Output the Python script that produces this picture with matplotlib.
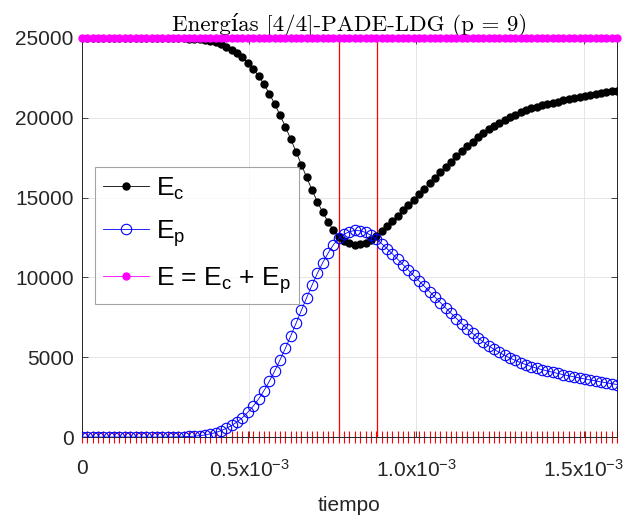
import numpy as np
import matplotlib
matplotlib.use("Agg")
import matplotlib.pyplot as plt

plt.rcParams['font.family'] = ['Liberation Sans', 'DejaVu Sans']
plt.rcParams['mathtext.fontset'] = 'custom'
plt.rcParams['mathtext.rm'] = 'Liberation Sans'
plt.rcParams['mathtext.it'] = 'Liberation Sans:italic'
plt.rcParams['mathtext.sf'] = 'Liberation Sans'

# time grid (101 uniform steps up to 1.6e-3)
t_end = 1.6e-3
n_pts = 101

# kinetic energy
Ec = [25000, 25000, 25000, 25000, 25000, 25000, 25000, 25000, 25000, 25000,
      25000, 25000, 25000, 25000, 25000, 25000, 25000, 24995, 24990, 24980,
      24965, 24945, 24915, 24870, 24800, 24720, 24600, 24450, 24270, 24050,
      23780, 23450, 23070, 22620, 22100, 21520, 20880, 20180, 19450, 18680,
      17880, 17070, 16260, 15480, 14740, 14070, 13480, 12950, 12550, 12290,
      12130, 12060, 12080, 12180, 12360, 12600, 12880, 13190, 13520, 13860,
      14200, 14540, 14880, 15220, 15560, 15900, 16240, 16580, 16920, 17250,
      17580, 17900, 18210, 18500, 18780, 19040, 19280, 19500, 19700, 19880,
      20050, 20200, 20340, 20470, 20590, 20690, 20780, 20865, 20945, 21020,
      21095, 21165, 21235, 21300, 21365, 21425, 21485, 21545, 21600, 21655,
      21710]

# potential energy
Ep = [0, 0, 0, 0, 0, 0, 0, 0, 0, 0,
      0, 0, 0, 0, 0, 0, 0, 5, 10, 20,
      35, 55, 85, 130, 200, 280, 400, 550, 730, 950,
      1220, 1550, 1930, 2380, 2900, 3480, 4120, 4820, 5550, 6320,
      7120, 7930, 8740, 9520, 10260, 10930, 11520, 12050, 12450, 12710,
      12870, 12940, 12920, 12820, 12640, 12400, 12120, 11810, 11480, 11140,
      10800, 10460, 10120, 9780, 9440, 9100, 8760, 8420, 8080, 7750,
      7420, 7100, 6790, 6500, 6220, 5960, 5720, 5500, 5300, 5120,
      4950, 4800, 4660, 4530, 4410, 4310, 4220, 4135, 4055, 3980,
      3905, 3835, 3765, 3700, 3635, 3575, 3515, 3455, 3400, 3345,
      3290]

# total energy (flat)
E_tot = [25000] * n_pts

# red vertical markers
vlines_t = [0.7695e-3, 0.883e-3]

xtick_vals = [0, 0.5e-3, 1.0e-3, 1.5e-3]
xtick_labels = ['0', '0.5x10$^{-3}$', '1.0x10$^{-3}$', '1.5x10$^{-3}$']
ytick_vals = [0, 5000, 10000, 15000, 20000, 25000]

t = np.linspace(0, t_end, n_pts)

fig = plt.figure(figsize=(6.26, 5.17), dpi=100)
ax = fig.add_axes([0.131, 0.1547, 0.8546, 0.7718])

ax.grid(True, color='#e6e6e6', linewidth=0.7)
ax.set_axisbelow(True)

for tv in vlines_t:
    ax.axvline(tv, color='red', linewidth=0.9, zorder=1.5)

ax.plot(t, Ec, '-o', color='black', markerfacecolor='black',
        markersize=5, linewidth=0.6, label='E$_\\mathrm{c}$', zorder=3)
ax.plot(t, Ep, '-o', color='blue', markerfacecolor='none',
        markersize=7.5, markeredgewidth=0.8, linewidth=0.6,
        label='E$_\\mathrm{p}$', zorder=3)
ax.plot(t, E_tot, '-o', color='magenta', markerfacecolor='magenta',
        markersize=5, linewidth=0.6,
        label='E = E$_\\mathrm{c}$ + E$_\\mathrm{p}$', zorder=4, clip_on=False)
ax.plot(t, np.zeros(n_pts), '|', color='red', markersize=8,
        markeredgewidth=0.8, clip_on=False, zorder=2.5)

ax.set_xlim(0, t_end)
ax.set_ylim(0, 25000)
ax.set_xticks(xtick_vals)
ax.set_xticklabels(xtick_labels)
ax.set_yticks(ytick_vals)
ax.tick_params(direction='in', length=4, width=0.6, colors='#262626',
               labelsize=15, top=True, right=True, pad=6)
ax.tick_params(axis='x', pad=16)
for s in ax.spines.values():
    s.set_color('#262626')
    s.set_linewidth(0.7)

ax.set_xlabel('tiempo', fontsize=15, color='#262626', labelpad=11)
ax.set_title('Energías [4/4]-PADE-LDG (p = 9)', fontsize=16.5,
             family=['cmr10', 'DejaVu Serif'], pad=5)

leg = ax.legend(loc='upper left', bbox_to_anchor=(0.024, 0.677),
                borderaxespad=0, fontsize=19, fancybox=False,
                edgecolor='#8c8c8c', handlelength=1.75, handletextpad=0.25,
                labelspacing=0.62, borderpad=0.32)
leg.get_frame().set_linewidth(0.8)

fig.savefig('out.png', dpi=100)
